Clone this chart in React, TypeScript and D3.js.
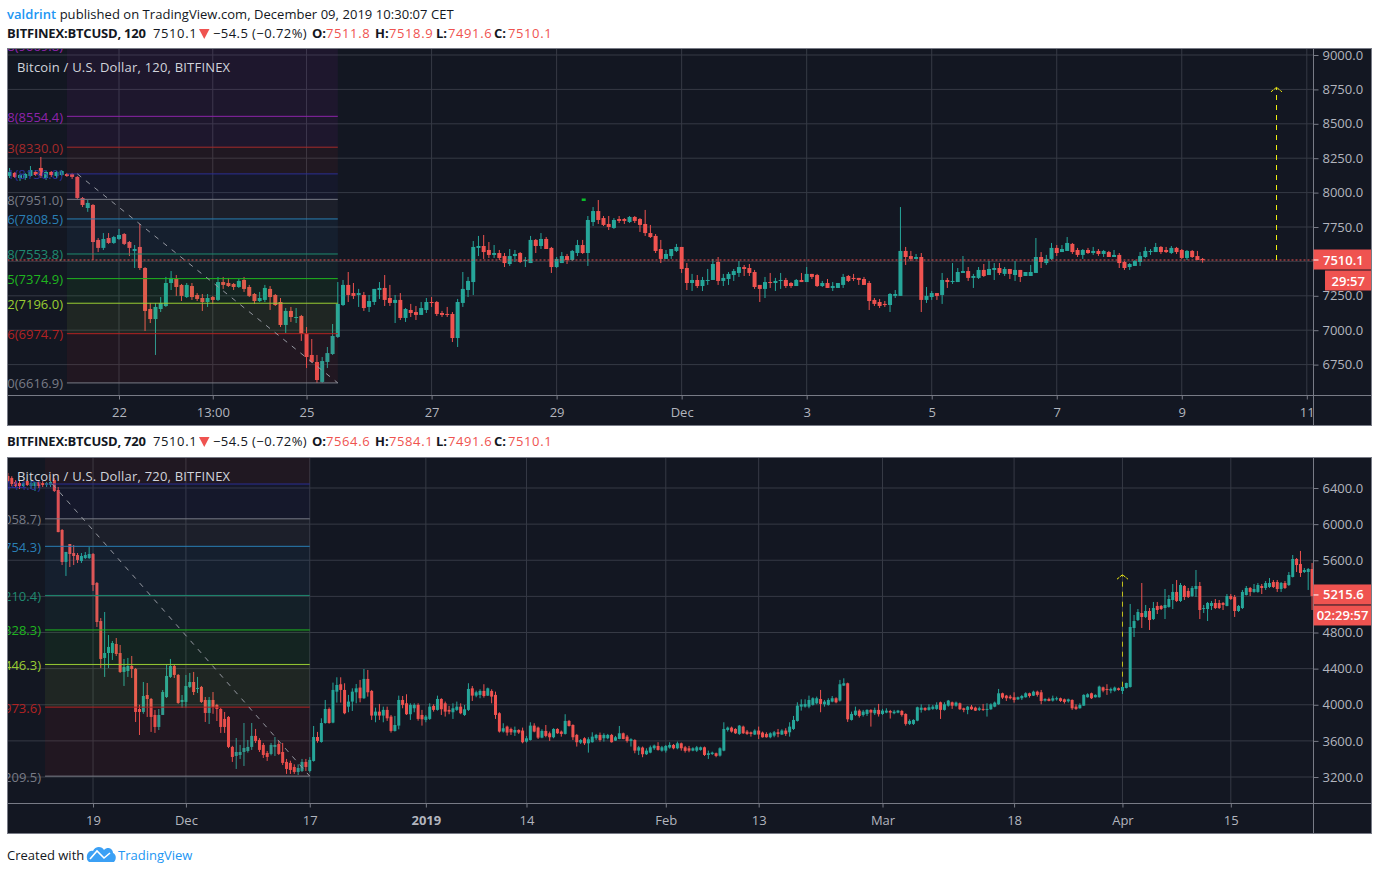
import React, { useEffect, useRef } from "react";
import * as d3 from "d3"

type Candle = number[] // open, high, low, close

const candles120: Candle[] = [
    [8121,8179,8106,8150],[8143,8150,8106,8114],[8106,8135,8085,8128],[8106,8143,8092,8135],[8121,8193,8114,8164],[8150,8164,8121,8128],
    [8179,8259,8106,8121],[8106,8157,8092,8150],[8150,8157,8114,8128],[8121,8157,8106,8150],[8128,8164,8121,8157],[8135,8143,8114,8121],
    [8135,8143,8099,8114],[8114,8121,7954,7961],[7961,7968,7895,7910],[7888,7947,7860,7925],[7910,7917,7510,7641],[7656,7670,7568,7598],
    [7598,7706,7583,7663],[7670,7706,7627,7634],[7634,7685,7627,7677],[7663,7736,7656,7692],[7699,7706,7619,7627],[7641,7648,7539,7598],
    [7576,7619,7452,7590],[7605,7772,7438,7452],[7452,7459,6994,7140],[7154,7198,7052,7081],[7081,7198,6820,7169],[7154,7241,7132,7198],
    [7176,7387,7169,7343],[7343,7430,7292,7380],[7372,7401,7249,7314],[7329,7336,7212,7249],[7241,7343,7234,7329],[7321,7343,7220,7241],
    [7256,7270,7212,7227],[7234,7263,7140,7205],[7205,7263,7169,7234],[7241,7249,7191,7220],[7220,7387,7212,7350],[7350,7387,7300,7329],
    [7343,7380,7314,7321],[7336,7343,7292,7314],[7314,7372,7307,7358],[7365,7387,7278,7300],[7314,7329,7241,7249],[7263,7270,7191,7212],
    [7212,7278,7205,7234],[7220,7329,7205,7307],[7300,7321,7147,7241],[7256,7263,7176,7183],[7205,7234,7023,7038],[7038,7161,6980,7140],
    [7140,7169,7060,7096],[7089,7161,7052,7096],[7103,7111,6922,6973],[6973,7023,6725,6805],[6820,6936,6762,6769],[6769,6820,6616,6638],
    [6624,6805,6617,6776],[6769,6878,6725,6834],[6827,7045,6820,6958],[6951,7350,6943,7191],[7183,7365,7176,7329],[7329,7423,7205,7256],
    [7270,7343,7227,7249],[7256,7300,7169,7270],[7256,7278,7140,7161],[7169,7256,7132,7212],[7205,7300,7183,7300],[7292,7350,7227,7307],
    [7307,7401,7176,7220],[7234,7329,7176,7198],[7198,7256,7052,7220],[7220,7270,7074,7089],[7089,7161,7060,7154],[7147,7191,7096,7125],
    [7132,7176,7074,7111],[7111,7205,7111,7161],[7147,7234,7125,7205],[7205,7241,7169,7198],[7205,7212,7103,7118],[7125,7140,7096,7111],
    [7118,7169,7096,7111],[7118,7132,6914,6943],[6943,7227,6878,7205],[7198,7423,7169,7300],[7292,7387,7241,7358],[7350,7648,7256,7605],
    [7598,7685,7539,7612],[7612,7692,7518,7568],[7583,7641,7525,7547],[7547,7619,7525,7561],[7561,7583,7510,7525],[7539,7561,7459,7488],
    [7481,7590,7467,7539],[7539,7583,7496,7554],[7561,7568,7488,7496],[7503,7532,7459,7510],[7488,7685,7488,7656],[7656,7663,7561,7612],
    [7612,7706,7590,7663],[7663,7677,7590,7590],[7598,7605,7416,7459],[7459,7532,7452,7518],[7488,7568,7488,7539],[7539,7554,7481,7510],
    [7510,7583,7503,7576],[7561,7656,7539,7619],[7619,7656,7554,7561],[7561,7830,7467,7801],[7786,7895,7757,7866],[7866,7946,7772,7801],
    [7815,7830,7757,7765],[7772,7830,7728,7750],[7743,7815,7736,7801],[7808,7830,7779,7794],[7808,7815,7772,7794],[7786,7830,7779,7823],
    [7823,7830,7779,7794],[7808,7815,7714,7765],[7772,7874,7685,7706],[7706,7765,7670,7677],[7685,7699,7561,7576],[7590,7656,7488,7518],
    [7518,7583,7518,7554],[7539,7590,7518,7590],[7576,7627,7568,7605],[7605,7605,7416,7445],[7452,7488,7292,7343],[7343,7409,7285,7365],
    [7365,7401,7307,7321],[7321,7387,7285,7365],[7358,7445,7329,7365],[7365,7518,7365,7481],[7496,7532,7329,7358],[7358,7409,7321,7380],
    [7372,7423,7329,7409],[7401,7445,7358,7430],[7416,7503,7387,7459],[7459,7474,7394,7445],[7452,7481,7394,7416],[7423,7438,7300,7314],
    [7329,7329,7205,7300],[7300,7387,7234,7350],[7350,7416,7307,7343],[7343,7380,7285,7358],[7358,7416,7300,7365],[7365,7380,7307,7321],
    [7343,7350,7307,7321],[7321,7372,7321,7365],[7365,7416,7350,7350],[7350,7459,7350,7409],[7409,7409,7372,7387],[7401,7409,7314,7321],
    [7321,7358,7314,7343],[7343,7372,7307,7307],[7307,7350,7285,7321],[7307,7343,7307,7343],[7329,7409,7307,7387],[7394,7401,7350,7358],
    [7380,7409,7358,7372],[7380,7380,7329,7365],[7372,7387,7329,7329],[7343,7358,7147,7212],[7220,7234,7176,7191],[7205,7227,7161,7176],
    [7191,7212,7169,7183],[7183,7270,7132,7263],[7249,7292,7234,7263],[7249,7895,7249,7576],[7576,7605,7474,7532],[7539,7576,7503,7518],
    [7518,7554,7518,7532],[7532,7561,7132,7220],[7220,7314,7198,7249],[7241,7285,7220,7270],[7270,7270,7220,7249],[7256,7416,7191,7365],
    [7365,7380,7307,7350],[7350,7488,7336,7358],[7350,7452,7350,7423],[7416,7539,7416,7430],[7430,7459,7358,7380],[7380,7409,7307,7394],
    [7380,7459,7372,7438],[7438,7481,7387,7394],[7401,7503,7401,7445],[7438,7488,7365,7452],[7452,7488,7401,7416],[7409,7459,7394,7445],
    [7445,7445,7372,7409],[7401,7503,7358,7438],[7438,7438,7350,7387],[7394,7423,7394,7423],[7394,7474,7394,7423],[7416,7670,7416,7532],
    [7532,7568,7452,7496],[7488,7547,7474,7518],[7518,7634,7510,7598],[7598,7619,7539,7561],[7568,7619,7568,7590],[7576,7677,7576,7634],
    [7627,7634,7554,7568],[7583,7598,7532,7547],[7547,7590,7518,7583],[7583,7598,7554,7561],[7561,7605,7547,7576],[7576,7590,7540,7554],
    [7554,7583,7532,7576],[7568,7576,7532,7532],[7532,7583,7532,7547],[7547,7561,7452,7488],[7496,7503,7438,7452],[7459,7488,7438,7481],
    [7467,7510,7467,7503],[7496,7568,7467,7539],[7532,7605,7525,7576],[7568,7590,7547,7576],[7568,7634,7568,7605],[7605,7612,7554,7568],
    [7583,7605,7561,7568],[7561,7612,7554,7598],[7598,7605,7554,7568],[7583,7590,7518,7525],[7525,7583,7510,7576],[7576,7583,7525,7532],
    [7539,7576,7510,7510],[7518,7525,7491,7510],
]

const candles720: Candle[] = [
    [6533,6566,6466,6477],[6510,6530,6420,6444],[6466,6488,6400,6422],[6455,6477,6389,6422],[6422,6466,6400,6455],[6477,6488,6422,6433],
    [6422,6477,6389,6455],[6422,6466,6367,6466],[6466,6488,6400,6422],[6455,6477,6411,6433],[6433,6466,6411,6455],[6433,6477,6411,6466],
    [6488,6510,6356,6367],[6378,6411,5910,5912],[5935,5946,5547,5581],[5581,5692,5426,5692],[5780,5780,5525,5669],[5680,5769,5547,5647],
    [5658,5680,5570,5603],[5592,5680,5570,5647],[5625,5691,5614,5658],[5625,5746,5614,5669],[5669,5680,5260,5326],[5348,5359,4861,4916],
    [4927,4960,4407,4507],[4518,5027,4308,4573],[4573,4772,4407,4640],[4573,4706,4496,4684],[4673,4739,4540,4562],[4573,4662,4352,4363],
    [4363,4507,4208,4418],[4374,4518,4308,4429],[4429,4540,4297,4396],[4396,4407,3809,3920],[3953,4000,3665,3920],[3920,4252,3900,4097],
    [4108,4241,3865,4064],[4064,4075,3699,3865],[3887,3942,3688,3754],[3754,3953,3720,3887],[3887,4163,3887,4141],[4086,4440,4075,4319],
    [4308,4507,4297,4429],[4429,4440,4297,4330],[4330,4340,4010,4020],[4031,4108,3964,4053],[4031,4330,3964,4208],[4197,4352,4185,4252],
    [4252,4363,4108,4141],[4175,4308,4130,4186],[4197,4208,4020,4031],[4053,4086,3809,3909],[3909,4086,3787,4053],[4053,4141,3900,3975],
    [3998,4010,3820,3953],[3953,3965,3688,3754],[3843,3920,3688,3754],[3865,3875,3520,3533],[3533,3545,3367,3422],[3433,3632,3289,3477],
    [3444,3555,3400,3477],[3477,3798,3322,3521],[3488,3610,3470,3533],[3533,3798,3500,3655],[3655,3732,3577,3599],[3610,3630,3477,3500],
    [3555,3577,3411,3444],[3466,3488,3378,3422],[3455,3577,3440,3555],[3533,3643,3433,3555],[3566,3599,3444,3455],[3477,3577,3333,3356],
    [3367,3400,3234,3289],[3356,3380,3234,3278],[3311,3340,3234,3256],[3256,3340,3222,3300],[3267,3400,3255,3367],[3367,3400,3267,3311],
    [3267,3420,3250,3389],[3378,3765,3370,3643],[3643,3699,3580,3599],[3588,3850,3580,3798],[3798,4053,3790,3953],[3953,3970,3790,3798],
    [3802,4245,3795,4164],[4145,4304,4024,4219],[4227,4304,4024,4164],[4164,4238,3895,3906],[3979,4109,3917,4035],[4035,4182,3931,4145],
    [4138,4230,4016,4182],[4190,4275,4027,4072],[4072,4396,4065,4286],[4286,4385,4090,4138],[4153,4164,3832,3880],[3880,3968,3806,3924],
    [3924,4009,3832,3880],[3880,3979,3806,3943],[3943,3979,3821,3850],[3869,3887,3692,3710],[3710,3876,3703,3776],[3769,4101,3728,4053],
    [4053,4097,3961,3998],[4016,4116,3887,3895],[3895,4016,3832,3998],[3961,4016,3917,3998],[3998,4016,3824,3843],[3887,3943,3769,3839],
    [3832,3887,3806,3869],[3843,4016,3832,3979],[3987,4005,3924,3943],[3943,4101,3935,4064],[4064,4072,3887,3950],[4016,4035,3869,3924],
    [3943,3987,3895,3924],[3917,4016,3843,3961],[3943,4035,3931,3979],[3979,4016,3895,3906],[3887,3998,3876,3950],[3943,4238,3931,4175],
    [4182,4208,4042,4101],[4101,4156,4083,4138],[4109,4171,4072,4153],[4153,4227,4079,4097],[4101,4190,4097,4182],[4153,4171,4016,4090],
    [4109,4145,3843,3887],[3906,3917,3692,3703],[3703,3795,3692,3740],[3758,3769,3658,3692],[3732,3747,3666,3695],[3692,3758,3655,3721],
    [3721,3728,3677,3692],[3714,3747,3573,3585],[3592,3655,3581,3629],[3610,3806,3603,3769],[3769,3795,3695,3703],[3747,3758,3621,3636],
    [3636,3728,3629,3710],[3710,3776,3640,3655],[3684,3703,3599,3640],[3640,3740,3629,3732],[3732,3740,3677,3684],[3703,3714,3647,3677],
    [3677,3895,3670,3821],[3821,3832,3758,3765],[3776,3784,3610,3640],[3666,3677,3537,3585],[3581,3621,3566,3610],[3629,3640,3555,3573],
    [3573,3640,3470,3618],[3585,3695,3581,3647],[3629,3677,3610,3666],[3666,3692,3592,3610],[3629,3684,3592,3666],[3629,3677,3618,3666],
    [3666,3677,3581,3585],[3603,3655,3599,3640],[3621,3765,3618,3684],[3684,3692,3618,3621],[3647,3666,3581,3599],[3599,3629,3537,3618],
    [3610,3618,3463,3492],[3492,3544,3444,3529],[3526,3537,3419,3452],[3452,3518,3444,3492],[3470,3548,3463,3529],[3518,3559,3500,3548],
    [3544,3585,3492,3500],[3492,3544,3481,3529],[3492,3555,3470,3544],[3526,3585,3514,3555],[3555,3566,3507,3518],[3518,3592,3507,3573],
    [3573,3581,3492,3518],[3529,3544,3470,3489],[3518,3544,3474,3492],[3492,3529,3485,3518],[3492,3544,3478,3529],[3500,3537,3492,3529],
    [3529,3537,3433,3444],[3444,3492,3400,3463],[3455,3481,3444,3470],[3463,3470,3419,3433],[3437,3529,3426,3518],[3492,3806,3485,3732],
    [3721,3758,3703,3747],[3747,3758,3692,3703],[3732,3740,3677,3684],[3677,3776,3666,3769],[3758,3769,3677,3684],[3703,3721,3666,3677],
    [3695,3703,3647,3677],[3670,3728,3666,3714],[3714,3758,3621,3670],[3692,3703,3636,3640],[3677,3695,3636,3640],[3640,3695,3629,3684],
    [3658,3710,3640,3695],[3695,3732,3640,3677],[3670,3728,3666,3714],[3714,3740,3655,3677],[3695,3806,3647,3758],[3732,3876,3721,3832],
    [3821,4027,3813,3990],[3979,4060,3935,4005],[3979,4060,3968,4009],[3979,4101,3961,4053],[3998,4083,3990,4072],[4016,4090,4005,4072],
    [4064,4164,3917,4009],[4005,4053,3979,4035],[3998,4072,3990,4053],[4035,4097,4027,4072],[4072,4083,4016,4027],[4046,4275,4035,4227],
    [4212,4293,4208,4238],[4238,4245,3810,3839],[3832,3924,3825,3898],[3887,3979,3876,3935],[3935,3950,3858,3876],[3887,3943,3869,3924],
    [3898,3950,3876,3943],[3943,3950,3758,3913],[3906,3968,3887,3943],[3943,4009,3869,3895],[3898,3954,3887,3935],[3913,3961,3906,3935],
    [3931,3943,3847,3913],[3906,3943,3895,3924],[3913,3943,3906,3935],[3931,3943,3869,3887],[3898,3906,3769,3788],[3788,3839,3776,3821],
    [3788,3839,3776,3832],[3824,3979,3817,3972],[3943,4005,3913,3968],[3965,3972,3931,3943],[3943,4005,3935,3972],[3954,3998,3943,3979],
    [3954,4027,3943,3998],[4027,4035,3843,3943],[3943,4027,3935,4005],[3990,4053,3979,4046],[4027,4035,3954,3990],[3990,4035,3979,4024],
    [4016,4024,3943,3950],[3961,3968,3917,3943],[3943,3987,3895,3979],[3979,3998,3943,3950],[3968,3979,3931,3935],[3943,3979,3931,3961],
    [3954,4009,3931,3943],[3943,4016,3869,3954],[3950,4016,3943,4005],[3979,4035,3972,4024],[4005,4175,3998,4127],[4127,4134,4064,4079],
    [4101,4109,4042,4072],[4090,4109,4060,4072],[4083,4138,4024,4053],[4060,4090,4053,4083],[4072,4109,4053,4097],[4083,4138,4079,4127],
    [4127,4134,4079,4097],[4101,4156,4097,4145],[4145,4156,4090,4109],[4138,4164,4005,4042],[4046,4072,4035,4064],[4064,4079,4038,4042],
    [4046,4101,4035,4072],[4060,4090,4046,4072],[4072,4079,4031,4042],[4060,4068,4013,4031],[4038,4068,4024,4060],[4053,4060,3943,3961],
    [3979,4005,3943,3954],[3961,4016,3957,3998],[3990,4116,3987,4109],[4083,4127,4079,4116],[4127,4134,4064,4072],[4083,4116,4079,4109],
    [4083,4212,4079,4201],[4193,4201,4138,4156],[4175,4227,4109,4164],[4156,4190,4127,4175],[4156,4201,4145,4190],[4182,4190,4156,4164],
    [4153,4201,4119,4197],[4186,4245,4180,4241],[4197,5116,4190,4861],[4850,4994,4750,4927],[4938,5060,4927,5027],[5016,5348,4850,4972],
    [4972,5105,4961,5038],[5038,5071,4828,4938],[4949,5138,4938,5071],[5094,5138,5005,5049],[5094,5105,5049,5060],[5071,5282,4949,5105],
    [5083,5215,5075,5171],[5160,5337,5060,5249],[5249,5381,5138,5149],[5149,5348,5138,5326],[5315,5326,5160,5193],[5260,5293,5182,5193],
    [5204,5315,5193,5293],[5282,5492,5193,5315],[5315,5359,4949,5049],[5060,5105,5016,5071],[5060,5138,4927,5127],[5094,5149,5049,5127],
    [5127,5171,5060,5071],[5127,5160,5060,5071],[5127,5138,5049,5105],[5094,5226,5090,5204],[5204,5226,5160,5171],[5193,5215,4972,5038],
    [5038,5105,5027,5094],[5071,5271,5060,5249],[5215,5315,5210,5293],[5293,5304,5204,5249],[5249,5337,5240,5282],[5249,5348,5240,5326],
    [5315,5337,5226,5293],[5293,5370,5271,5348],[5304,5403,5293,5348],[5359,5381,5293,5304],[5359,5381,5249,5282],[5282,5359,5249,5348],
    [5348,5370,5282,5293],[5326,5470,5315,5437],[5415,5658,5410,5614],[5614,5625,5470,5547],[5559,5703,5415,5459],[5470,5514,5459,5492],
    [5470,5514,5271,5503],[5503,5570,5049,5204],
]

const priceTicks120 = [6750, 7000, 7250, 7500, 7750, 8000, 8250, 8500, 8750, 9000]
const priceTicks720 = [3200, 3600, 4000, 4400, 4800, 5200, 5600, 6000, 6400]

const timeBars120 = [21, 39, 57, 81, 105, 129, 153, 177, 201, 225, 249]
const timeLabels120 = ["22", "13:00", "25", "27", "29", "Dec", "3", "5", "7", "9", "11"]
const timeBars720 = [22, 46, 78, 108, 134, 170, 194, 226, 260, 288, 316]
const timeLabels720 = ["19", "Dec", "17", "2019", "14", "Feb", "13", "Mar", "18", "Apr", "15"]

// retracement levels, lowest first
const fibValues120 = [6616.9, 6974.7, 7196.0, 7374.9, 7553.8, 7808.5, 7951.0, 8136.0, 8330.0, 8554.4, 9069.8]
const fibLabels120 = ["0", "0.236", "0.382", "0.5", "0.618", "0.786", "0.888", "1", "1.13", "1.278", "1.618"]
const fibValues720 = [3209.5, 3973.6, 4446.3, 4828.3, 5210.4, 5754.3, 6058.7, 6444.0, 6864.0]
const fibLabels720 = ["0", "0.236", "0.382", "0.5", "0.618", "0.786", "0.888", "1", "1.13"]
const fibColors = ["#787b86", "#b22222", "#9acd32", "#1fb51f", "#1f8a70", "#2a7fb5", "#787b86", "#2c2f94", "#a52a2a", "#8e24aa", "#8e24aa"]

const up = "#26a69a"
const down = "#ef5350"
const textDark = "#131722"
const font = "'Open Sans', sans-serif"

type PanelProps = {
    top: number,
    bottom: number,
    axisY: number,
    title: string,
    candles: Candle[],
    barWidth: number,
    xDomain: number[],
    xRange: number[],
    yDomain: number[],
    yRange: number[],
    priceTicks: number[],
    timeBars: number[],
    timeLabels: string[],
    fibValues: number[],
    fibLabels: string[],
    fibBars: number[],
    fibLabelRight: number,
    trend: number[][],
    arrow: number[],
    arrowOpacity: number,
    marker?: number[],
    priceLine: boolean,
    lastLabel: string,
    lastValue: number,
    countdown: string,
    countdownLeft: number,
}

const LEFT = 7.5
const RIGHT = 1371.5
const AXIS_X = 1313.5

function Panel(p: PanelProps) {
    const ref = useRef<SVGGElement>(null)
    useEffect(() => {
        const g = d3.select(ref.current)
        g.selectAll("*").remove()
        const clipId = "clip" + p.top
        const x = d3.scaleLinear().domain(p.xDomain).range(p.xRange)
        const y = d3.scaleLinear().domain(p.yDomain).range(p.yRange)
        const H = p.bottom - p.top

        g.append("clipPath").attr("id", clipId).append("rect")
            .attr("x", LEFT).attr("y", p.top).attr("width", AXIS_X - LEFT).attr("height", p.axisY - p.top)

        g.append("rect").attr("x", LEFT).attr("y", p.top).attr("width", RIGHT - LEFT).attr("height", H)
            .attr("fill", "#131722")

        const plot = g.append("g").attr("clip-path", `url(#${clipId})`)
        // grid
        plot.selectAll(".gy").data(p.priceTicks).join("line")
            .attr("x1", LEFT).attr("x2", AXIS_X)
            .attr("y1", d => y(d)).attr("y2", d => y(d))
            .attr("stroke", "#363a45").attr("stroke-width", 1)
        plot.selectAll(".gx").data(p.timeBars).join("line")
            .attr("x1", d => x(d)).attr("x2", d => x(d))
            .attr("y1", p.top).attr("y2", p.axisY)
            .attr("stroke", "#363a45").attr("stroke-width", 1)

        // candles
        const bars = plot.append("g").selectAll("g").data(p.candles).join("g")
        bars.append("line")
            .attr("x1", (d, i) => x(i)).attr("x2", (d, i) => x(i))
            .attr("y1", d => y(d[1])).attr("y2", d => y(d[2]))
            .attr("stroke", d => d[3] >= d[0] ? up : down).attr("stroke-width", 1)
        bars.append("rect")
            .attr("x", (d, i) => x(i) - p.barWidth / 2).attr("width", p.barWidth)
            .attr("y", d => y(Math.max(d[0], d[3])))
            .attr("height", d => Math.max(1, Math.abs(y(d[0]) - y(d[3]))))
            .attr("fill", d => d[3] >= d[0] ? up : down)

        // fib zones and levels
        const [fibA, fibB] = p.fibBars
        const levels = p.fibValues
        plot.selectAll(".zone").data(levels.slice(1)).join("rect")
            .attr("x", x(fibA)).attr("width", x(fibB) - x(fibA))
            .attr("y", d => y(d))
            .attr("height", (d, i) => y(levels[i]) - y(d))
            .attr("fill", (d, i) => fibColors[i + 1]).attr("fill-opacity", 0.09)
        plot.selectAll(".level").data(levels).join("line")
            .attr("x1", x(fibA)).attr("x2", x(fibB))
            .attr("y1", d => y(d)).attr("y2", d => y(d))
            .attr("stroke", (d, i) => fibColors[i]).attr("stroke-width", 1)
        plot.selectAll(".lab").data(levels).join("text")
            .attr("x", p.fibLabelRight).attr("y", d => y(d) + 5.5)
            .attr("text-anchor", "end")
            .attr("font-family", font).attr("font-size", 13)
            .attr("fill", (d, i) => fibColors[i])
            .text((d, i) => `${p.fibLabels[i]}(${d.toFixed(1)})`)

        // trend line of the fib
        plot.append("path")
            .attr("d", d3.line().x(d => x(d[0])).y(d => y(d[1]))(p.trend as [number, number][]))
            .attr("fill", "none").attr("stroke", "#9598a1").attr("stroke-width", 1).attr("stroke-dasharray", "5 6")

        // last price line
        if (p.priceLine) {
            plot.append("line")
                .attr("x1", LEFT).attr("x2", AXIS_X).attr("y1", y(p.lastValue)).attr("y2", y(p.lastValue))
                .attr("stroke", down).attr("stroke-width", 1).attr("stroke-dasharray", "2 2")
        }

        // small green mark above the candles
        if (p.marker) {
            plot.append("rect")
                .attr("x", x(p.marker[0]) - 2).attr("y", y(p.marker[1]) - 1).attr("width", 4).attr("height", 2.5)
                .attr("fill", "#0bbf2a")
        }

        // projected move arrow: bar, from price, to price
        const [arrowBar, arrowFrom, arrowTo] = p.arrow
        const ax = Math.round(x(arrowBar)) + 0.5
        plot.append("line")
            .attr("x1", ax).attr("x2", ax).attr("y1", y(arrowFrom)).attr("y2", y(arrowTo))
            .attr("stroke", "#f2ee11").attr("stroke-width", 1).attr("stroke-dasharray", "5 5")
            .attr("stroke-opacity", p.arrowOpacity)
        plot.append("path")
            .attr("d", `M${ax - 5.5},${y(arrowTo) + 4.5}L${ax},${y(arrowTo)}L${ax + 5.5},${y(arrowTo) + 4.5}`)
            .attr("fill", "none").attr("stroke", "#f2ee11").attr("stroke-width", 1).attr("stroke-dasharray", "3 1")

        plot.append("text").attr("x", 17).attr("y", p.top + 23)
            .attr("font-family", font).attr("font-size", 13).attr("letter-spacing", 0.2).attr("fill", "#d1d4dc")
            .text(p.title)

        // axes
        const yAxis = d3.axisRight(y).tickValues(p.priceTicks).tickSize(5).tickPadding(4)
            .tickFormat(d => d3.format(".1f")(d as number))
        const yg = g.append("g").attr("transform", `translate(${AXIS_X},0)`).call(yAxis as any)
        const xAxis = d3.axisBottom(x).tickValues(p.timeBars).tickSize(4).tickPadding(8)
            .tickFormat((d, i) => p.timeLabels[i])
        const xg = g.append("g").attr("transform", `translate(0,${p.axisY})`).call(xAxis as any)
        for (const a of [yg, xg]) {
            a.select(".domain").remove()
            a.selectAll("line").attr("stroke", "#787b86")
            a.selectAll("text").attr("font-family", font).attr("font-size", 13).attr("fill", "#b2b5be")
        }
        xg.selectAll("text").attr("font-weight", d => p.timeLabels[p.timeBars.indexOf(d as number)] === "2019" ? 700 : 400)

        g.append("line").attr("x1", LEFT).attr("x2", RIGHT).attr("y1", p.axisY).attr("y2", p.axisY)
            .attr("stroke", "#787b86")
        g.append("line").attr("x1", AXIS_X).attr("x2", AXIS_X).attr("y1", p.top).attr("y2", p.bottom)
            .attr("stroke", "#787b86")

        // price tags
        const yl = y(p.lastValue)
        g.append("rect").attr("x", AXIS_X).attr("y", yl - 10.5).attr("width", RIGHT - AXIS_X + 0.5).attr("height", 20)
            .attr("fill", down)
        g.append("line").attr("x1", AXIS_X).attr("x2", AXIS_X + 5).attr("y1", yl).attr("y2", yl).attr("stroke", "#fff")
        g.append("text").attr("x", 1323).attr("y", yl + 4.5)
            .attr("font-family", font).attr("font-size", 13).attr("font-weight", 600).attr("fill", "#fff").text(p.lastLabel)
        g.append("rect").attr("x", p.countdownLeft).attr("y", yl + 10.5).attr("width", RIGHT + 0.5 - p.countdownLeft).attr("height", 20)
            .attr("fill", down)
        g.append("text").attr("x", (p.countdownLeft + RIGHT) / 2).attr("y", yl + 25.5).attr("text-anchor", "middle")
            .attr("font-family", font).attr("font-size", 13).attr("font-weight", 600).attr("fill", "#fff").text(p.countdown)

        g.append("rect").attr("x", LEFT).attr("y", p.top).attr("width", RIGHT - LEFT).attr("height", H)
            .attr("fill", "none").attr("stroke", "#787b86")
    }, [])
    return <g ref={ref}></g>
}

// one header row of symbol and OHLC text
function Legend(props: { y: number, symbol: string, ohlc: string[] }) {
    const base = { y: props.y, fontFamily: font, fontSize: 13, fill: textDark }
    const xs = [326, 389, 448, 508]
    const names = ["O:", "H:", "L:", "C:"]
    const nameX = [312, 375, 436, 494]
    return (
        <g>
            <text {...base} x={7} fontWeight={700} letterSpacing={-0.2}>{props.symbol}</text>
            <text {...base} x={153} letterSpacing={0.6}>7510.1</text>
            <path d={`M199,${props.y - 9}h10.5l-5.25,10z`} fill={down} />
            <text {...base} x={213} letterSpacing={0.43}>−54.5 (−0.72%)</text>
            {names.map((n, i) => <text key={n} {...base} x={nameX[i]} fontWeight={700}>{n}</text>)}
            {props.ohlc.map((v, i) => <text key={i} {...base} x={xs[i]} fill={down} letterSpacing={0.6}>{v}</text>)}
        </g>
    )
}

export default function App() {
    return (
        <svg width={1379} height={874} style={{ position: "absolute", left: 0, top: 0, background: "#fff", display: "block" }}>
            <text x={7} y={19} fontFamily={font} fontSize={13} letterSpacing={0.045} fill={textDark}>
                <tspan fill="#2196f3" fontWeight={600}>valdrint</tspan> published on TradingView.com, December 09, 2019 10:30:07 CET
            </text>
            <Legend y={38} symbol="BITFINEX:BTCUSD, 120" ohlc={["7511.8", "7518.9", "7491.6", "7510.1"]} />
            <Panel
                top={48.5} bottom={425.5} axisY={395.5}
                title="Bitcoin / U.S. Dollar, 120, BITFINEX"
                candles={candles120} barWidth={4}
                xDomain={[0, 249]} xRange={[9.6, 1306.8]}
                yDomain={[6750, 9000]} yRange={[364.6, 55]}
                priceTicks={priceTicks120}
                timeBars={timeBars120} timeLabels={timeLabels120}
                fibValues={fibValues120} fibLabels={fibLabels120} fibBars={[11, 63]} fibLabelRight={63}
                trend={[[13, 8136], [63, 6617]]}
                arrow={[243, 7510, 8765]} arrowOpacity={1}
                marker={[110.2, 7950]}
                priceLine={true}
                lastLabel="7510.1" lastValue={7510.1}
                countdown="29:57" countdownLeft={1325}
            />
            <Legend y={446} symbol="BITFINEX:BTCUSD, 720" ohlc={["7564.6", "7584.1", "7491.6", "7510.1"]} />
            <Panel
                top={457.5} bottom={833.5} axisY={803.5}
                title="Bitcoin / U.S. Dollar, 720, BITFINEX"
                candles={candles720} barWidth={3}
                xDomain={[0, 316]} xRange={[7.9, 1230.8]}
                yDomain={[3200, 6400]} yRange={[777, 488]}
                priceTicks={priceTicks720}
                timeBars={timeBars720} timeLabels={timeLabels720}
                fibValues={fibValues720} fibLabels={fibLabels720} fibBars={[9.6, 78]} fibLabelRight={41}
                trend={[[11.5, 6444], [78, 3209.5]]}
                arrow={[288, 4200, 5440]} arrowOpacity={0.75}
                priceLine={false}
                lastLabel="5215.6" lastValue={5215.6}
                countdown="02:29:57" countdownLeft={1313.5}
            />
            <text x={7} y={860} fontFamily={font} fontSize={13} fill={textDark}>Created with</text>
            <path d="M87,859 C86,853 90,850 93,851 C95,846 102,846 104,850 C108,846 113,849 113,853 C116,854 117,859 114,862 L89,862 C88,861 87,860 87,859 Z" fill="#3ba0f5" />
            <path d="M90,859 L97,851 L104,858 L110,853" fill="none" stroke="#fff" strokeWidth={1.6} />
            <text x={118} y={860} fontFamily={font} fontSize={13} fill="#2196f3">TradingView</text>
        </svg>
    )
}
